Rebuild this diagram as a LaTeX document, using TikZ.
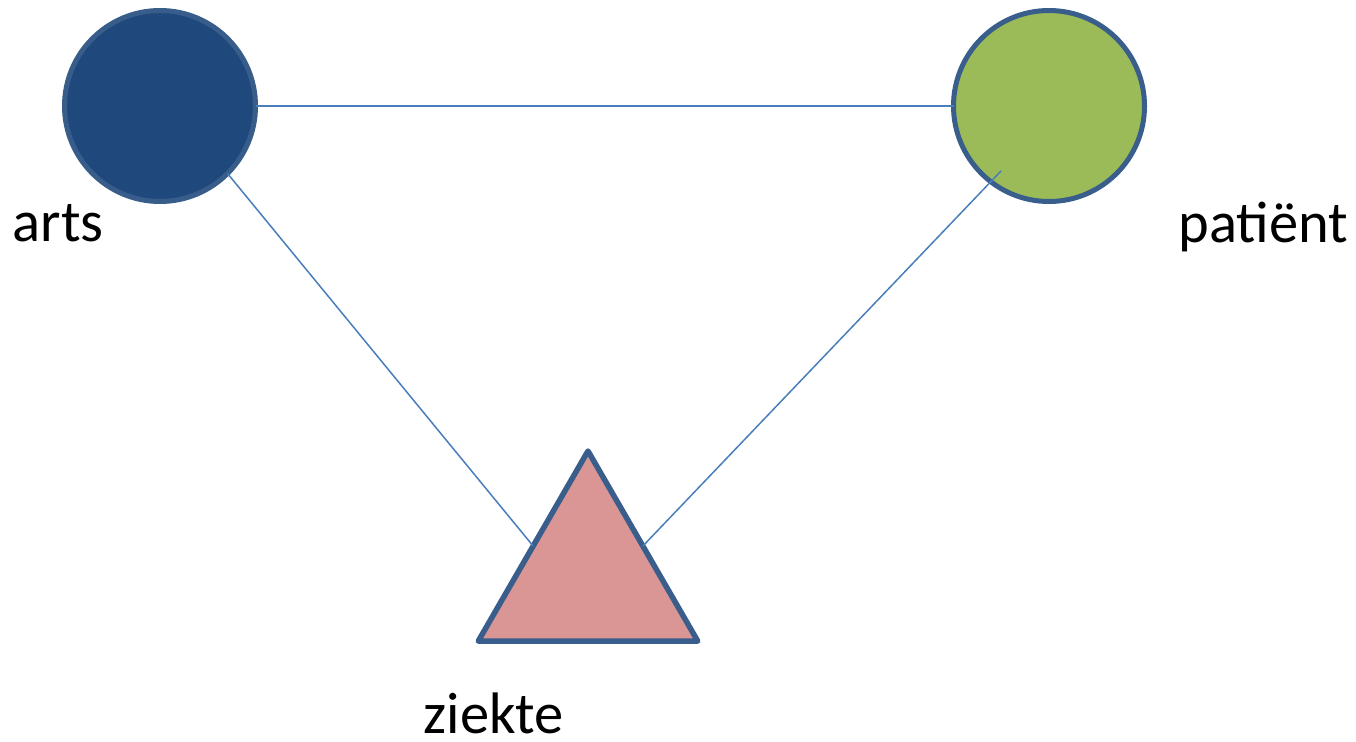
\documentclass[tikz,border=0pt]{standalone}
\usepackage{fontspec}
\setmainfont{Carlito}
\usetikzlibrary{shapes.geometric,calc}
\definecolor{artsfill}{HTML}{1F497D}
\definecolor{artsline}{HTML}{385D8A}
\definecolor{patfill}{HTML}{9BBB59}
\definecolor{shapeline}{HTML}{3A5E8C}
\definecolor{trifill}{HTML}{D99694}
\definecolor{conn}{HTML}{4A7EBB}
\tikzset{
  ball/.style={circle, draw, line width=5pt, inner sep=0pt, outer sep=0pt, minimum size=191pt},
  tri/.style={regular polygon, regular polygon sides=3, draw=shapeline, fill=trifill, line width=5.5pt, line join=round, inner sep=0pt, outer sep=0pt, minimum size=253.4pt},
  link/.style={draw=conn, line width=1.5pt},
  lbl/.style={anchor=base west, inner sep=0pt, font=\fontsize{58.5}{64}\selectfont}
}
\begin{document}
\begin{tikzpicture}[x=1pt,y=-1pt]
\useasboundingbox (0,0) rectangle (1356,741);
\node[ball, draw=artsline, fill=artsfill] (arts) at (160,106) {};
\node[ball, draw=shapeline, fill=patfill] (pat) at (1049,106) {};
\node[tri] (z) at (588,577.7) {};
\coordinate (pin) at (1001,171);
\draw[link] (arts.east) -- (pat.west);
\draw[link] (arts.-45) -- ($(z.corner 1)!0.5!(z.corner 2)$);
\draw[link] (pin) -- ($(z.corner 1)!0.5!(z.corner 3)$);
\node[lbl] (tarts) at (12.5,241) {arts};
\node[lbl] (tpat) at (1178.5,242) {patiënt};
\node[lbl] (tz) at (423.5,733) {ziekte};
\end{tikzpicture}
\end{document}
